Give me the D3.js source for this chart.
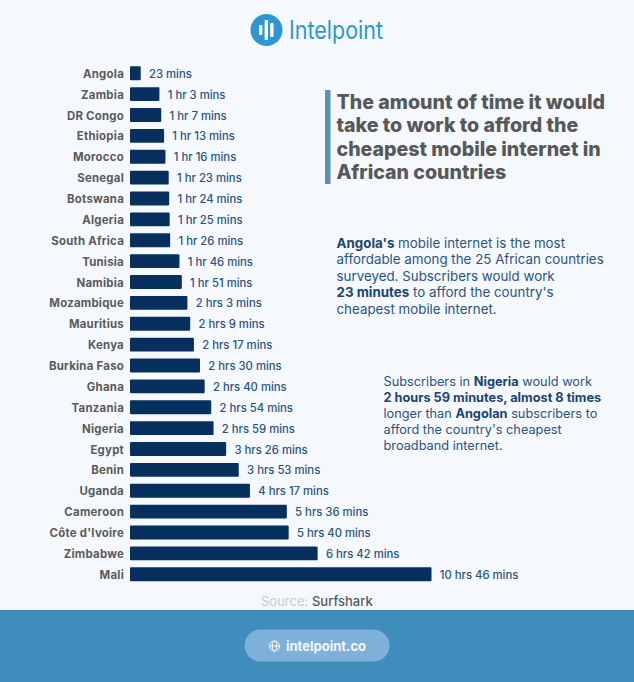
<!DOCTYPE html>
<html><head><meta charset="utf-8">
<script src="https://cdn.jsdelivr.net/npm/d3@7/dist/d3.min.js"></script>
<style>html,body{margin:0;padding:0;background:#f5f9fe}svg{display:block}text{font-family:Inter,"Noto Sans",sans-serif}</style>
</head><body><svg id="c" width="634" height="682"></svg>
<script>
const countries=["Angola","Zambia","DR Congo","Ethiopia","Morocco","Senegal","Botswana","Algeria","South Africa","Tunisia","Namibia","Mozambique","Mauritius","Kenya","Burkina Faso","Ghana","Tanzania","Nigeria","Egypt","Benin","Uganda","Cameroon","Côte d'Ivoire","Zimbabwe","Mali"];
const minutes=[23,63,67,73,76,83,84,85,86,106,111,123,129,137,150,160,174,179,206,233,257,336,340,402,646];
const titleLines=["The amount of time it would","take to work to afford the","cheapest mobile internet in","African countries"];
const note1=[[["Angola's",1],[" mobile internet is the most",0]],[["affordable among the 25 African countries",0]],[["surveyed. Subscribers would work",0]],[["23 minutes",1],[" to afford the country's",0]],[["cheapest mobile internet.",0]]];
const note2=[[["Subscribers in ",0],["Nigeria",1],[" would work",0]],[["2 hours 59 minutes, almost 8 times",1]],[["longer than ",0],["Angolan",1],[" subscribers to",0]],[["afford the country's cheapest",0]],[["broadband internet.",0]]];
const logoBars=[10,20,14];

const svg=d3.select("#c");
const fmt=m=>{const h=Math.floor(m/60),r=m%60;return h===0?`${r} mins`:`${h} ${h===1?"hr":"hrs"} ${r} mins`;};
const x=d3.scaleLinear().domain([0,646]).range([130,431.5]);
const y=d3.scaleBand().domain(countries).range([62.8,584.7]).paddingInner(0.34).paddingOuter(0.17);

// logo
svg.append("circle").attr("cx",266.5).attr("cy",30).attr("r",16).attr("fill","#2e97d1");
svg.selectAll(".lb").data(logoBars).join("rect").attr("x",(d,i)=>259+i*5.6).attr("y",d=>30-d/2).attr("width",3.4).attr("height",d=>d).attr("rx",1).attr("fill","#fff");
svg.append("text").attr("x",289).attr("y",38.5).attr("font-size",25).attr("font-family","Lato").attr("textLength",94).attr("lengthAdjust","spacingAndGlyphs").attr("fill","#2e97d1").text("Intelpoint");

// bars
const cy=d=>y(d)+y.bandwidth()/2;
svg.selectAll(".bar").data(countries).join("rect").attr("x",x(0)).attr("y",d=>y(d))
 .attr("width",(d,i)=>x(minutes[i])-x(0)).attr("height",y.bandwidth()).attr("rx",1).attr("fill","#07305f");
svg.selectAll(".cat").data(countries).join("text").attr("x",124).attr("y",d=>cy(d)+4.6).attr("text-anchor","end")
 .attr("font-size",11.4).attr("font-weight",700).attr("letter-spacing",0.25).attr("fill","#5a5a5c").text(d=>d);
svg.selectAll(".val").data(countries).join("text").attr("x",(d,i)=>x(minutes[i])+8.3).attr("y",d=>cy(d)+4.6)
 .attr("font-size",11.3).attr("font-weight",500).attr("fill","#2c5382").text((d,i)=>fmt(minutes[i]));

// title
svg.append("rect").attr("x",325).attr("y",90).attr("width",5.5).attr("height",94).attr("fill","#5a90b5");
svg.selectAll(".t").data(titleLines).join("text").attr("x",336.5).attr("y",(d,i)=>109+i*23.4)
 .attr("font-size",19.6).attr("font-weight",800).attr("fill","#58585a").text(d=>d);

function para(lines,px,py,lh,fs){
 lines.forEach((ln,i)=>{
  const t=svg.append("text").attr("x",px).attr("y",py+i*lh).attr("font-size",fs).attr("fill","#2c5382");
  ln.forEach(s=>t.append("tspan").attr("font-weight",s[1]?700:400).attr("fill",s[1]?"#1c4472":"#2c5382").attr("xml:space","preserve").text(s[0]));
 });
}
svg.attr("xml:space","preserve");
para(note1,336.5,248,16.4,13.35);
para(note2,383.5,386,15.9,12.75);

// source
const src=svg.append("text").attr("x",261).attr("y",606).attr("font-size",13);
src.append("tspan").attr("fill","#c9cbce").text("Source: ");
src.append("tspan").attr("fill","#58585a").attr("font-weight",500).text("Surfshark");

// footer
svg.append("rect").attr("x",0).attr("y",610).attr("width",634).attr("height",72).attr("fill","#3f8dbd");
svg.append("rect").attr("x",244.5).attr("y",629.5).attr("width",145).attr("height",32).attr("rx",16).attr("fill","#7eb0d8");
const g=svg.append("g").attr("transform","translate(274.5,646)").attr("fill","none").attr("stroke","#f5f9fe").attr("stroke-width",1);
g.append("circle").attr("r",5);g.append("ellipse").attr("rx",2.2).attr("ry",5);g.append("path").attr("d","M-5 0H5");
svg.append("text").attr("x",286).attr("y",650.5).attr("font-size",13).attr("font-weight",700).attr("fill","#f5f9fe").text("intelpoint.co");
</script></body></html>
